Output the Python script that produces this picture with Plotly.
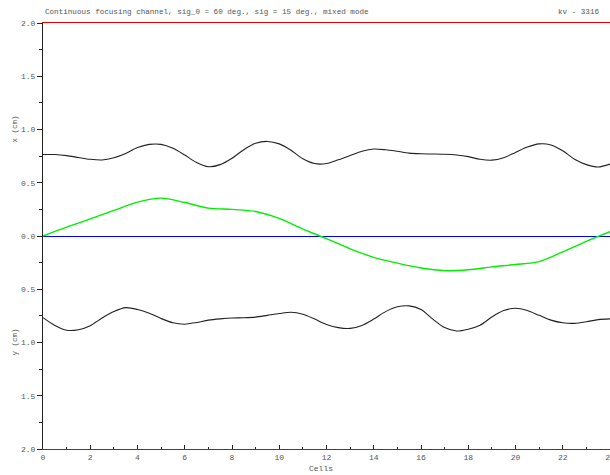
import plotly.graph_objects as go

# Beam envelope along the channel, sampled every half cell
cells_env = [i * 0.5 for i in range(49)]
x_envelope = [0.765, 0.765, 0.755, 0.737, 0.72, 0.714, 0.735, 0.775, 0.83, 0.86,
              0.86, 0.823, 0.76, 0.69, 0.65, 0.67, 0.73, 0.81, 0.87, 0.888,
              0.865, 0.805, 0.725, 0.68, 0.68, 0.715, 0.755, 0.795, 0.817, 0.81,
              0.795, 0.778, 0.772, 0.77, 0.767, 0.76, 0.745, 0.72, 0.712, 0.735,
              0.785, 0.835, 0.865, 0.855, 0.80, 0.72, 0.67, 0.648, 0.675]
y_envelope = [0.767, 0.84, 0.885, 0.88, 0.842, 0.77, 0.71, 0.673, 0.69, 0.725,
              0.775, 0.815, 0.828, 0.812, 0.79, 0.778, 0.77, 0.768, 0.762, 0.745,
              0.728, 0.716, 0.735, 0.78, 0.83, 0.86, 0.867, 0.84, 0.78, 0.71,
              0.665, 0.656, 0.69, 0.78, 0.86, 0.892, 0.875, 0.838, 0.76, 0.70,
              0.679, 0.70, 0.745, 0.79, 0.815, 0.82, 0.805, 0.785, 0.778]

# Beam centroid, sampled every cell
cells_cen = list(range(25))
centroid = [0.0, 0.083, 0.16, 0.24, 0.318, 0.356, 0.315, 0.262, 0.25, 0.23,
            0.165, 0.065, -0.025, -0.12, -0.2, -0.255, -0.3, -0.325, -0.317, -0.29,
            -0.268, -0.24, -0.15, -0.05, 0.04]

x_ticks = list(range(0, 25, 2))
y_ticks = [-2.0, -1.5, -1.0, -0.5, 0.0, 0.5, 1.0, 1.5, 2.0]
y_tick_text = [f"{abs(v):.1f}" for v in y_ticks]

title_text = "Continuous focusing channel, sig_0 = 60 deg., sig = 15 deg., mixed mode"
run_text = "kv - 3316"

mono = "Liberation Mono, Courier New, monospace"
grey = "#555555"

fig = go.Figure()
fig.add_trace(go.Scatter(x=cells_env, y=x_envelope, mode="lines",
                         line=dict(color="#222222", width=1.1, shape="spline", smoothing=0.8)))
fig.add_trace(go.Scatter(x=cells_env, y=[-v for v in y_envelope], mode="lines",
                         line=dict(color="#222222", width=1.1, shape="spline", smoothing=0.8)))
fig.add_trace(go.Scatter(x=cells_cen, y=centroid, mode="lines",
                         line=dict(color="#00ee00", width=1.4, shape="spline", smoothing=0.8)))

fig.update_layout(
    width=610, height=475,
    margin=dict(l=43, r=0, t=23, b=26),
    paper_bgcolor="white", plot_bgcolor="white",
    showlegend=False,
    font=dict(family=mono, size=8, color=grey),
    xaxis=dict(range=[0, 24], tickvals=x_ticks, ticks="inside", ticklen=4,
               tickcolor="#222222", showgrid=False, zeroline=False,
               showline=True, linecolor="#e00000", linewidth=1.1, mirror=True,
               ticklabeloverflow="allow", automargin=False,
               minor=dict(dtick=1, ticks="inside", ticklen=2, tickcolor="#222222"),
               tickfont=dict(family=mono, size=8, color=grey)),
    yaxis=dict(range=[-2, 2], tickvals=y_ticks, ticktext=y_tick_text,
               ticks="outside", ticklen=5, tickcolor="#222222", automargin=False,
               showgrid=False, zeroline=True, zerolinecolor="#0000ff", zerolinewidth=1.2,
               showline=True, linecolor="#222222", linewidth=1.2,
               minor=dict(dtick=0.25, ticks="outside", ticklen=3, tickcolor="#222222"),
               tickfont=dict(family=mono, size=8, color=grey)),
)

fig.add_annotation(text=title_text, xref="paper", yref="paper", x=0, y=1,
                   xanchor="left", yanchor="bottom", yshift=5, showarrow=False,
                   font=dict(family=mono, size=7.6, color=grey))
fig.add_annotation(text=run_text, xref="paper", yref="paper", x=0.985, y=1,
                   xanchor="right", yanchor="bottom", yshift=5, showarrow=False,
                   font=dict(family=mono, size=7.6, color=grey))
fig.add_annotation(text="x (cm)", xref="paper", yref="y", x=0, y=1.0,
                   xshift=-35, textangle=-90, showarrow=False,
                   font=dict(family=mono, size=7.5, color=grey))
fig.add_annotation(text="y (cm)", xref="paper", yref="y", x=0, y=-1.0,
                   xshift=-35, textangle=-90, showarrow=False,
                   font=dict(family=mono, size=7.5, color=grey))
fig.add_annotation(text="Cells", xref="paper", yref="paper", x=0.49, y=0,
                   yshift=-13, yanchor="top", showarrow=False,
                   font=dict(family=mono, size=8, color=grey))

fig.write_html("out.html")
